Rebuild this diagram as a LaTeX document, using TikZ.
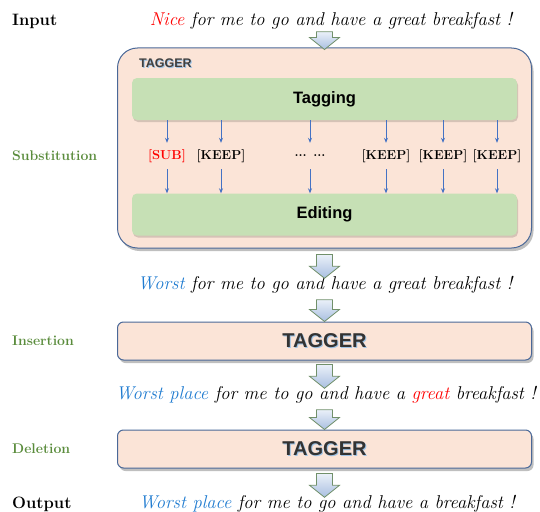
\documentclass[tikz,border=0pt]{standalone}
\usepackage{fontspec}
\newfontfamily\headfont{Liberation Sans}
\usetikzlibrary{arrows.meta, positioning, shadows, calc}
\definecolor{peach}{HTML}{FBE4D7}
\definecolor{frameblue}{HTML}{4A6898}
\definecolor{leafgreen}{HTML}{C6E0B5}
\definecolor{stepgreen}{HTML}{5A8C3C}
\definecolor{wordblue}{HTML}{1F7BD0}
\definecolor{tokblue}{HTML}{4472C4}
\definecolor{glowblue}{HTML}{9DC3E6}
\definecolor{arrtop}{HTML}{EAF0F9}
\definecolor{arrbot}{HTML}{A9BFE0}
\definecolor{arredge}{HTML}{71906A}
\tikzset{
  rowlab/.style  = {font=\bfseries\fontsize{16.5}{18}\selectfont, anchor=west, inner sep=0pt},
  steplab/.style = {font=\bfseries\fontsize{14}{16}\selectfont, text=stepgreen,
                    anchor=west, inner sep=0pt},
  sent/.style    = {font=\itshape\fontsize{18.5}{22}\selectfont, inner sep=0pt},
  shell/.style   = {draw=frameblue, line width=1pt, fill=peach, minimum width=414pt,
                    drop shadow={shadow xshift=2pt, shadow yshift=-3pt, fill=black, opacity=0.25}},
  stage/.style   = {fill=leafgreen, rounded corners=5pt, minimum width=385pt, minimum height=42pt,
                    font=\headfont\bfseries\fontsize{16.5}{20}\selectfont,
                    drop shadow={shadow xshift=1pt, shadow yshift=-2pt, fill=black, opacity=0.15}},
  tagname/.style = {font=\headfont\bfseries\fontsize{12.5}{14}\selectfont, text=black!75, inner sep=0pt},
  bigname/.style = {font=\headfont\bfseries\fontsize{20}{24}\selectfont, text=black!80},
  tok/.style     = {font=\bfseries\fontsize{13}{15}\selectfont, inner sep=0pt, minimum height=26pt},
  tokarr/.style  = {-{Stealth[length=5pt, width=4pt]}, line width=0.7pt, draw=tokblue},
  bigarr/.style  = {draw=arredge, line width=0.8pt, top color=arrtop, bottom color=arrbot,
                    to path={([xshift=-8pt]\tikztostart) -- ([xshift=-8pt, yshift=12pt]\tikztotarget)
                      -- ([xshift=-15pt, yshift=12pt]\tikztotarget) -- (\tikztotarget)
                      -- ([xshift=15pt, yshift=12pt]\tikztotarget) -- ([xshift=8pt, yshift=12pt]\tikztotarget)
                      -- ([xshift=8pt]\tikztostart) -- cycle}},
}
\newcommand{\glow}[1]{\makebox[0pt][l]{\hspace{0.9pt}\raisebox{-0.9pt}{\textcolor{glowblue}{#1}}}#1}

\begin{document}
\begin{tikzpicture}[x=1pt, y=-1pt]
\useasboundingbox (0,0) rectangle (540,511);

% row labels
\node[rowlab]  (inlab)  at (12,21)  {Input};
\node[steplab] (sublab) at (12,156) {Substitution};
\node[steplab] (inslab) at (12,341) {Insertion};
\node[steplab] (dellab) at (12,449) {Deletion};
\node[rowlab]  (outlab) at (12,504) {Output};

% sentences
\node[sent] (s0) at (331,21)  {\textcolor{red}{Nice} for me to go and have a great breakfast !};
\node[sent] (s1) at (325,285) {\textcolor{wordblue}{Worst} for me to go and have a great breakfast !};
\node[sent] (s2) at (326,395) {\textcolor{wordblue}{Worst place} for me to go and have a \textcolor{red}{great} breakfast !};
\node[sent] (s3) at (327,504) {\textcolor{wordblue}{Worst place} for me to go and have a breakfast !};

% substitution tagger
\node[shell, rounded corners=20pt, minimum height=200pt] (tg) at (324.5,148) {};
\node[tagname, anchor=west] (tgname) at (139,64) {\glow{TAGGER}};
\node[stage] (tagging) at (324.5,99)    {Tagging};
\node[stage] (editing) at (324.5,214.5) {Editing};
\foreach \x/\t [count=\i] in {167/{\textcolor{red}{[SUB]}}, 221/{[KEEP]}, 310/{... ...},
                              386/{[KEEP]}, 443/{[KEEP]}, 497/{[KEEP]}} {
  \node[tok] (tk\i) at (\x,156) {\t};
  \draw[tokarr] (tagging.south -| tk\i) -- (tk\i.north);
  \draw[tokarr] (tk\i.south) -- (editing.north -| tk\i);
}

% insertion and deletion taggers
\node[shell, rounded corners=6pt, minimum height=38pt, bigname] (ins) at (324.5,341) {\glow{TAGGER}};
\node[shell, rounded corners=6pt, minimum height=38pt, bigname] (del) at (324.5,449) {\glow{TAGGER}};

% block arrows
\path[bigarr] ([yshift=-2pt]tg.north |- s0.south) to ([yshift=-2pt]tg.north);
\path[bigarr] ([yshift=-6pt]tg.south) to ([yshift=-2pt]tg.south |- s1.north);
\path[bigarr] ([yshift=-6pt]ins.north |- s1.south) to (ins.north);
\path[bigarr] ([yshift=-4pt]ins.south) to ([yshift=-2pt]ins.south |- s2.north);
\path[bigarr] ([yshift=-6pt]del.north |- s2.south) to (del.north);
\path[bigarr] ([yshift=-5pt]del.south) to ([yshift=-2pt]del.south |- s3.north);
\end{tikzpicture}
\end{document}
